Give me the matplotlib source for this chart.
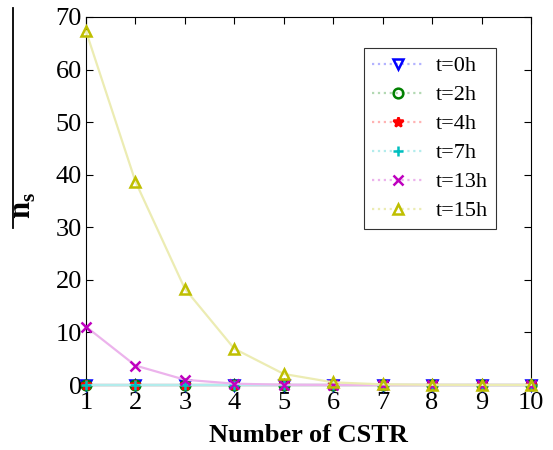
import numpy as np
import matplotlib.pyplot as plt
from matplotlib.colors import to_rgb

plt.rcParams['font.family'] = ['Liberation Serif', 'DejaVu Serif']
plt.rcParams['mathtext.fontset'] = 'custom'
plt.rcParams['mathtext.rm'] = 'Liberation Serif'
plt.rcParams['mathtext.bf'] = 'Liberation Serif:bold'

cstr = np.arange(1, 11)
labels = ['t=0h', 't=2h', 't=4h', 't=7h', 't=13h', 't=15h']
n_t0 = [0, 0, 0, 0, 0, 0, 0, 0, 0, 0]
n_t2 = [0, 0, 0, 0, 0, 0, 0, 0, 0, 0]
n_t4 = [0, 0, 0, 0, 0, 0, 0, 0, 0, 0]
n_t7 = [0, 0, 0, 0, 0, 0, 0, 0, 0, 0]
n_t13 = [11.1, 3.7, 1.0, 0.25, 0.05, 0.01, 0, 0, 0, 0]
n_t15 = [67.3, 38.7, 18.3, 6.9, 2.1, 0.5, 0.12, 0.04, 0.02, 0.01]
series = [n_t0, n_t2, n_t4, n_t7, n_t13, n_t15]

colors = ['#0000ff', '#008000', '#ff0000', '#00bfbf', '#bf00bf', '#bfbf00']
markers = ['v', 'o', '*', '+', 'x', '^']


def pale(c, f=0.3):
    r = np.array(to_rgb(c))
    return tuple(1 - f * (1 - r))


fig = plt.figure(figsize=(5.53, 4.5), dpi=100)
ax = fig.add_axes([86 / 553, 1 - 385 / 450, (531 - 86) / 553, (385 - 17) / 450])

for ys, lab, c, m in zip(series, labels, colors, markers):
    ax.plot(cstr, ys, linestyle='-', color=pale(c), linewidth=1.6,
            marker=m, markersize=7, markeredgewidth=1.8,
            markeredgecolor=c, markerfacecolor='none' if m in 'vo^' else c,
            label=lab, clip_on=False, zorder=3)

ax.set_xlim(1, 10)
ax.set_ylim(0, 70)
ax.set_xticks(cstr)
ax.set_yticks(np.arange(0, 71, 10))
ax.tick_params(direction='in', top=True, right=True, labelsize=19, length=5)
ax.tick_params(axis='x', pad=5)
ax.tick_params(axis='y', pad=3)
ax.set_xlabel('Number of CSTR', fontsize=19, fontweight='bold', labelpad=7)

fig.text(24 / 553, 1 - 205 / 450, r'$\mathbf{n}_\mathbf{s}$', rotation=90,
         fontsize=22, ha='center', va='center')
fig.add_artist(plt.Line2D([13 / 553, 13 / 553], [1 - 8 / 450, 1 - 228 / 450],
                          color='black', linewidth=1.3))

leg = ax.legend(loc='upper left', bbox_to_anchor=((364 - 86) / 445, 1 - (48 - 17) / 368),
                fontsize=16, fancybox=False, edgecolor='black', handlelength=2.4,
                borderpad=0.35, labelspacing=0.38, borderaxespad=0, handletextpad=0.5)
leg.get_frame().set_linewidth(0.8)
for h in leg.get_lines():
    h.set_linestyle(':')

fig.savefig('out.png', dpi=100)
